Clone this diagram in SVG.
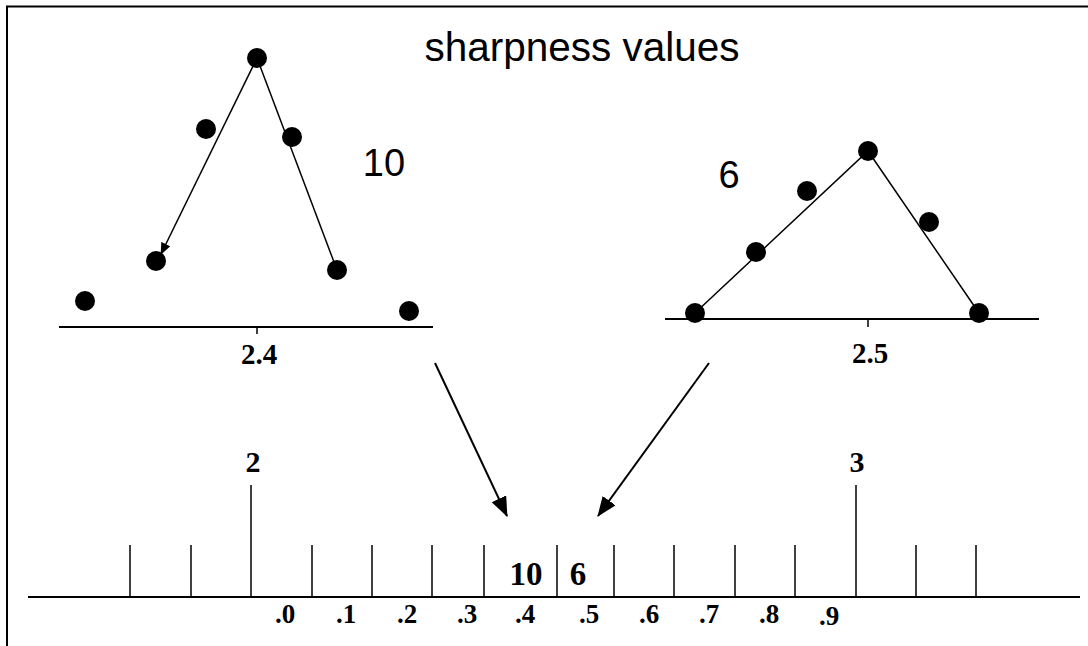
<svg xmlns="http://www.w3.org/2000/svg" width="1088" height="646" viewBox="0 0 1088 646">
<style>
.ln{stroke:#000;stroke-width:1.5;fill:none}
.ax{stroke:#000;stroke-width:2;fill:none}
.dot{fill:#000}
.sans{font-family:"Liberation Sans",Arial,sans-serif;font-size:38px;fill:#000}
.ser{font-family:"Liberation Serif","Times New Roman",serif;font-weight:bold;fill:#000;text-anchor:middle}
.s24{font-size:27px}
.s27{font-size:29px}
.s28{font-size:30px}
.s31{font-size:33px}
</style>
<defs>
<marker id="bigArrow" markerWidth="20" markerHeight="18" refX="19" refY="8" orient="auto" markerUnits="userSpaceOnUse">
<path d="M0,0 L20,8 L0,16 Z" fill="#000"/>
</marker>
<marker id="smallArrow" markerWidth="12" markerHeight="10" refX="11" refY="5" orient="auto" markerUnits="userSpaceOnUse">
<path d="M0,0 L12,5 L0,10 Z" fill="#000"/>
</marker>
</defs>
<rect width="1088" height="646" fill="#fff"/>
<g id="frame">
<line x1="6" y1="6.5" x2="1088" y2="6.5" class="ax" stroke-width="2.5"/>
<line x1="7" y1="6" x2="7" y2="646" class="ax"/>
</g>
<g id="title"><text class="sans" x="582" y="61" text-anchor="middle" style="font-size:40.5px">sharpness values</text></g>

<g id="plot-left">
<line x1="59" y1="327" x2="433" y2="327" class="ax"/>
<line x1="257" y1="327" x2="257" y2="334" class="ln"/>
<text class="ser s27" x="259" y="364">2.4</text>
<line x1="257" y1="58" x2="337" y2="270" class="ln"/>
<circle class="dot" cx="85" cy="301" r="10"/>
<circle class="dot" cx="156" cy="261" r="10"/>
<circle class="dot" cx="206" cy="129" r="10"/>
<circle class="dot" cx="257" cy="58" r="10"/>
<circle class="dot" cx="292" cy="137" r="10"/>
<circle class="dot" cx="337" cy="270" r="10"/>
<circle class="dot" cx="409" cy="311" r="10"/>
<line x1="257" y1="58" x2="161" y2="254" class="ln" marker-end="url(#smallArrow)"/>
<text class="sans" x="384" y="176" text-anchor="middle">10</text>
</g>

<g id="plot-right">
<line x1="665" y1="319" x2="1039" y2="319" class="ax"/>
<line x1="868" y1="319" x2="868" y2="327" class="ln"/>
<text class="ser s27" x="870" y="363">2.5</text>
<polyline points="695,313 868,151 979,313" class="ln"/>
<circle class="dot" cx="695" cy="313" r="10"/>
<circle class="dot" cx="756" cy="252" r="10"/>
<circle class="dot" cx="807" cy="191" r="10"/>
<circle class="dot" cx="868" cy="151" r="10"/>
<circle class="dot" cx="929" cy="222" r="10"/>
<circle class="dot" cx="979" cy="313" r="10"/>
<text class="sans" x="729" y="188" text-anchor="middle">6</text>
</g>

<g id="connectors">
<line x1="435" y1="363" x2="507" y2="516" class="ax" marker-end="url(#bigArrow)"/>
<line x1="709" y1="363" x2="598" y2="516" class="ax" marker-end="url(#bigArrow)"/>
</g>

<g id="scale">
<line x1="28" y1="597" x2="1080" y2="597" class="ax" stroke-width="2.5"/>
<g class="ln">
<line x1="130" y1="545" x2="130" y2="597"/>
<line x1="191" y1="545" x2="191" y2="597"/>
<line x1="251" y1="485" x2="251" y2="597"/>
<line x1="312" y1="545" x2="312" y2="597"/>
<line x1="372" y1="545" x2="372" y2="597"/>
<line x1="432" y1="545" x2="432" y2="597"/>
<line x1="484" y1="545" x2="484" y2="597"/>
<line x1="557" y1="545" x2="557" y2="597"/>
<line x1="614" y1="545" x2="614" y2="597"/>
<line x1="674" y1="545" x2="674" y2="597"/>
<line x1="735" y1="545" x2="735" y2="597"/>
<line x1="795" y1="545" x2="795" y2="597"/>
<line x1="856" y1="485" x2="856" y2="597"/>
<line x1="916" y1="545" x2="916" y2="597"/>
<line x1="976" y1="545" x2="976" y2="597"/>
</g>
<text class="ser s28" x="253" y="472">2</text>
<text class="ser s28" x="857" y="472">3</text>
<text class="ser s31" x="526" y="585">10</text>
<text class="ser s31" x="578" y="585">6</text>
<text class="ser s24" x="285" y="623">.0</text>
<text class="ser s24" x="346" y="623">.1</text>
<text class="ser s24" x="407" y="623">.2</text>
<text class="ser s24" x="467" y="623">.3</text>
<text class="ser s24" x="525" y="623">.4</text>
<text class="ser s24" x="589" y="623">.5</text>
<text class="ser s24" x="649" y="623">.6</text>
<text class="ser s24" x="709" y="623">.7</text>
<text class="ser s24" x="769" y="623">.8</text>
<text class="ser s24" x="829" y="625">.9</text>
</g>
</svg>
